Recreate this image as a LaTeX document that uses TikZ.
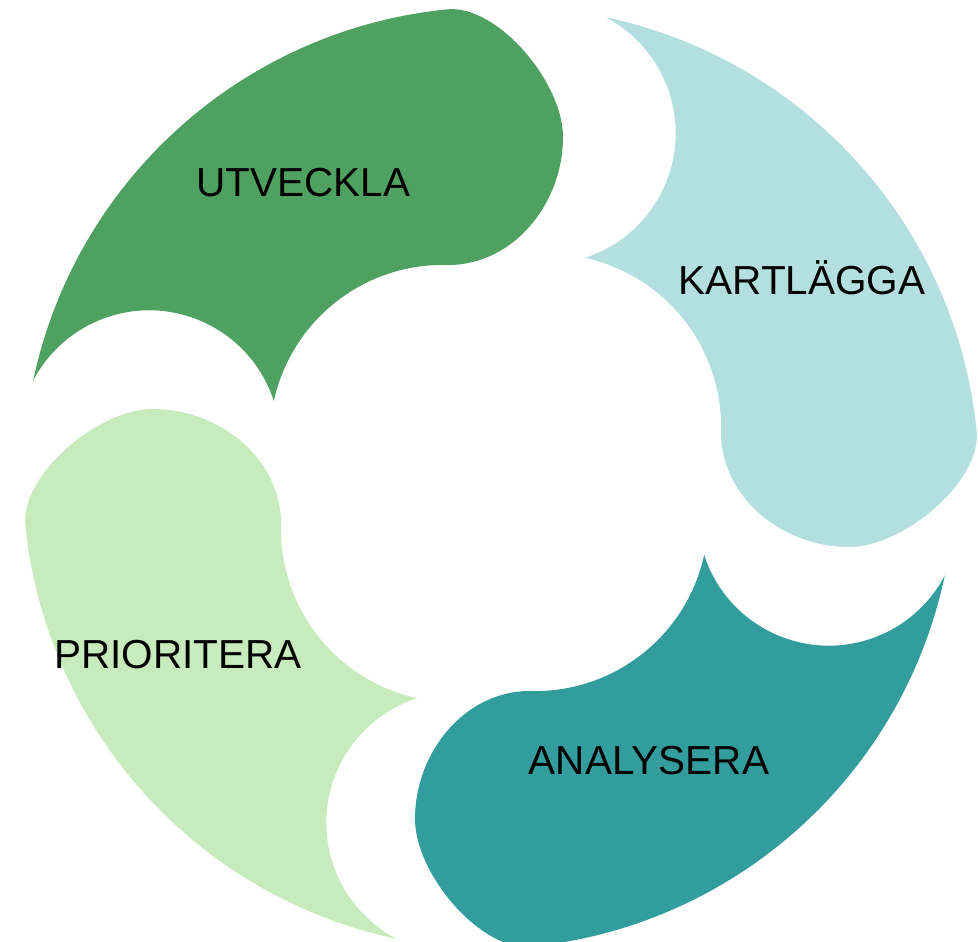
\documentclass[tikz,border=0pt]{standalone}
\usepackage{fontspec}
\setmainfont{Liberation Sans}
\definecolor{utvgreen}{HTML}{4FA162}
\definecolor{kartteal}{HTML}{B3DFDF}
\definecolor{analteal}{HTML}{339C9C}
\definecolor{priogreen}{HTML}{C8EBBE}
\tikzset{
     seg label/.style={font=\fontsize{40.5}{48}\selectfont, text=black, anchor=base, inner sep=0pt},
    }
% one swirl segment, bulge at the top, tail to the left
\newcommand{\segshape}{(168.1:471) arc[start angle=168.1, end angle=95.7, radius=471]
  .. controls (2.85,473.6) and (69,396) .. (69,341)
  .. controls (69,275) and (20,213) .. (-46,213)
  arc[start angle=88.3, end angle=167.7, radius=173]
  arc[start angle=17.9, end angle=152.6, radius=131] -- cycle}

\begin{document}
\begin{tikzpicture}[x=1pt,y=1pt]
        \useasboundingbox (0,0) rectangle (978,942);
        \fill[white] (0,0) rectangle (978,942);

        \fill[utvgreen, shift={(494,464)}]            \segshape;
        \fill[kartteal, shift={(508,464)}, rotate=-90] \segshape;
        \fill[analteal, shift={(484,464)}, rotate=180] \segshape;
        \fill[priogreen, shift={(494,464)}, rotate=90] \segshape;

        \node [seg label] (utv)  at (303.5,745) {UTVECKLA};
        \node [seg label] (kart) at (802,647)   {KARTLÄGGA};
        \node [seg label] (anal) at (649,167)   {ANALYSERA};
        \node [seg label] (prio) at (178,273)   {PRIORITERA};
    \end{tikzpicture}
\end{document}
